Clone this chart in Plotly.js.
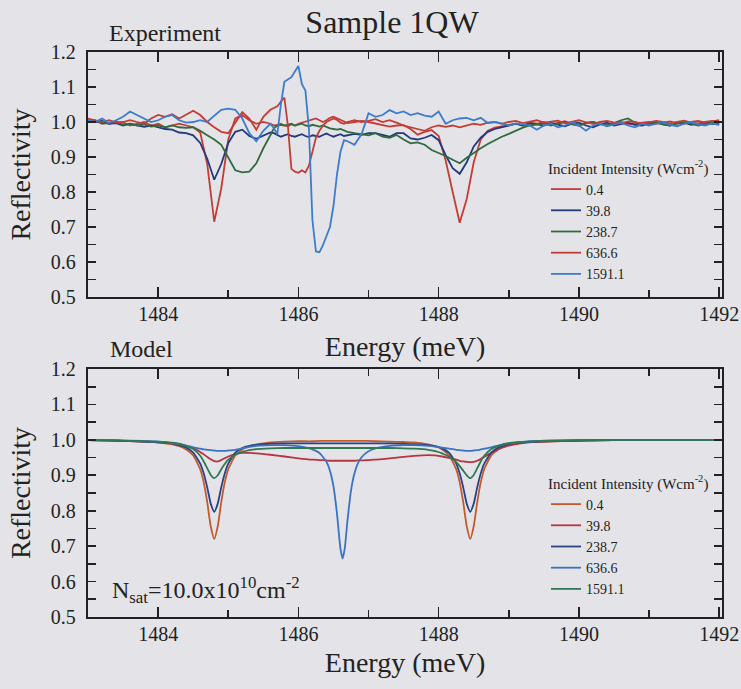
<!DOCTYPE html>
<html>
<head>
<meta charset="utf-8">
<script src="https://cdn.plot.ly/plotly-3.0.1.min.js"></script>
<style>
html,body{margin:0;padding:0;background:#e4e4e8;}
#chart{width:741px;height:689px;}
</style>
</head>
<body>
<div id="chart"></div>
<script>
// ---------- Experiment (top panel) ----------
var energyExp = [
 1483.0,1483.1,1483.2,1483.3,1483.4,1483.5,1483.6,1483.7,1483.8,1483.9,
 1484.0,1484.1,1484.2,1484.3,1484.4,1484.5,1484.6,1484.7,1484.8,1484.9,
 1485.0,1485.1,1485.2,1485.3,1485.4,1485.5,1485.6,
 1485.65,1485.7,1485.75,1485.8,1485.85,1485.9,1485.95,1486.0,1486.05,1486.1,
 1486.15,1486.2,1486.25,1486.3,1486.35,1486.4,1486.45,1486.5,1486.55,1486.6,
 1486.65,1486.7,
 1486.8,1486.9,1487.0,1487.1,1487.2,1487.3,1487.4,1487.5,1487.6,1487.7,
 1487.8,1487.9,1488.0,1488.1,1488.2,1488.3,1488.4,1488.5,1488.6,1488.7,
 1488.8,1488.9,1489.0,1489.1,1489.2,1489.3,1489.4,1489.5,1489.6,1489.7,
 1489.8,1489.9,1490.0,1490.1,1490.2,1490.3,1490.4,1490.5,1490.6,1490.7,
 1490.8,1490.9,1491.0,1491.1,1491.2,1491.3,1491.4,1491.5,1491.6,1491.7,
 1491.8,1491.9,1492.0
];
var exp_0_4 = [
 1.005,1.0,1.0,0.995,1.0,0.998,0.99,0.995,1.0,0.99,
 0.995,0.985,0.99,0.995,0.99,0.985,0.97,0.88,0.715,0.81,
 0.95,1.01,1.02,1.005,0.995,1.0,0.995,
 0.99,0.992,0.995,0.99,0.988,0.993,0.99,0.995,0.998,1.0,
 1.005,1.008,1.01,1.005,1.0,1.005,1.012,1.015,1.01,1.005,
 1.0,0.997,
 1.0,1.003,1.0,0.996,0.99,0.987,0.99,0.991,0.98,0.964,
 0.972,0.977,0.96,0.89,0.80,0.712,0.78,0.885,0.95,0.975,
 0.984,0.988,0.99,0.995,0.99,0.998,0.995,1.0,0.993,0.998,
 1.002,0.995,0.99,0.998,1.0,0.995,0.992,0.997,1.0,0.995,
 0.993,0.998,1.0,0.995,0.998,1.002,0.996,0.995,1.0,1.003,
 0.998,1.002,1.005
];
var exp_39_8 = [
 1.005,1.0,1.003,0.995,0.997,0.99,0.995,0.99,0.986,0.99,
 0.985,0.98,0.978,0.97,0.968,0.962,0.94,0.895,0.835,0.88,
 0.94,0.972,0.978,0.96,0.952,0.962,0.97,
 0.968,0.962,0.958,0.962,0.965,0.96,0.958,0.962,0.965,0.96,
 0.957,0.962,0.96,0.958,0.963,0.967,0.962,0.958,0.962,0.965,
 0.96,0.962,
 0.966,0.963,0.968,0.968,0.962,0.958,0.968,0.968,0.953,0.95,
 0.955,0.963,0.948,0.905,0.868,0.852,0.885,0.93,0.955,0.972,
 0.98,0.985,0.99,0.995,0.99,0.996,0.993,0.99,0.997,0.992,
 0.988,0.995,0.998,0.99,0.985,0.993,0.998,0.99,0.994,0.998,
 0.992,0.99,0.995,0.998,0.993,0.99,0.996,0.998,0.992,0.994,
 0.998,0.995,0.993
];
var exp_238_7 = [
 1.0,1.005,0.995,0.998,1.0,0.992,0.995,0.99,0.993,0.987,
 0.99,0.985,0.99,0.985,0.983,0.985,0.975,0.962,0.95,0.935,
 0.9,0.862,0.856,0.858,0.882,0.925,0.962,
 0.982,0.99,0.992,0.99,0.993,0.995,0.99,0.992,0.995,0.99,
 0.988,0.992,0.99,0.987,0.99,0.985,0.982,0.98,0.978,0.98,
 0.976,0.972,
 0.968,0.965,0.962,0.968,0.958,0.955,0.963,0.95,0.939,0.942,
 0.935,0.92,0.912,0.903,0.892,0.882,0.898,0.912,0.925,0.937,
 0.948,0.958,0.966,0.975,0.984,0.99,0.993,0.996,0.99,0.995,
 1.0,0.993,0.99,0.996,1.0,0.994,0.99,0.997,1.005,1.01,
 0.998,0.993,0.997,1.0,0.993,0.99,0.996,1.0,0.995,0.99,
 0.994,0.998,0.995
];
var exp_636_6 = [
 1.01,1.005,1.0,1.005,0.998,1.0,1.005,1.0,0.995,1.01,
 1.02,1.015,1.022,1.01,1.02,1.032,1.02,1.0,0.985,0.972,
 0.968,1.0,1.028,1.01,0.978,1.015,1.035,
 1.04,1.045,1.058,1.07,0.99,0.866,0.858,0.855,0.862,0.856,
 0.875,0.918,0.955,0.975,0.99,1.0,1.005,1.01,1.006,0.998,
 0.995,1.0,
 1.005,1.0,1.003,1.008,1.0,1.005,0.998,0.99,0.985,0.98,
 0.975,0.985,0.99,0.986,0.99,0.985,0.99,0.995,0.992,0.998,
 1.0,0.995,1.0,1.003,0.997,1.0,1.005,0.998,1.0,1.004,
 0.996,1.0,1.005,0.999,0.995,1.0,1.003,0.998,0.996,1.002,
 1.0,0.995,0.998,1.003,1.0,0.996,1.0,1.004,0.998,0.996,
 1.0,1.003,1.0
];
var exp_1591_1 = [
 1.005,1.0,1.01,0.997,1.005,1.015,1.03,1.02,1.01,1.0,
 1.005,1.015,1.02,1.005,0.998,1.0,1.005,1.0,1.018,1.035,
 1.038,1.035,1.01,0.968,0.945,0.975,0.995,
 0.982,0.965,1.05,1.115,1.122,1.128,1.144,1.16,1.108,1.09,
 0.98,0.72,0.63,0.628,0.648,0.675,0.70,0.76,0.85,0.915,
 0.948,0.945,
 0.935,0.965,1.025,1.015,1.02,1.034,1.025,1.03,1.02,1.025,
 1.018,1.015,1.03,0.995,1.005,1.01,1.012,1.005,1.012,0.997,
 1.0,0.996,0.99,0.996,0.992,0.99,0.978,0.99,0.995,0.985,
 0.99,0.998,0.99,0.975,0.99,0.995,0.988,0.993,0.998,0.99,
 0.985,0.995,0.99,0.995,1.0,0.992,0.988,0.995,1.0,0.993,
 0.99,0.996,0.992
];

// ---------- Model (bottom panel) ----------
var energyModel = [
 1483.0,1483.4,1483.8,1484.0,1484.2,1484.3,1484.4,1484.5,1484.6,1484.65,
 1484.7,1484.75,1484.8,1484.85,1484.9,1484.95,1485.0,1485.1,1485.2,1485.3,
 1485.4,1485.6,1485.8,1486.0,1486.2,1486.3,1486.4,1486.45,1486.5,1486.55,
 1486.6,1486.63,1486.66,1486.7,1486.75,1486.8,1486.85,1486.9,1487.0,1487.1,
 1487.3,1487.5,1487.65,1487.85,1487.95,1488.05,1488.15,1488.25,1488.3,1488.35,
 1488.4,1488.45,1488.5,1488.55,1488.6,1488.65,1488.75,1488.85,1488.95,1489.05,
 1489.25,1489.5,1490.0,1490.5,1491.0,1491.5,1492.0
];
var model_0_4 = [
 0.999,0.998,0.995,0.993,0.987,0.982,0.973,0.956,0.917,0.88,
 0.824,0.756,0.72,0.756,0.824,0.88,0.917,0.956,0.973,0.982,
 0.987,0.993,0.995,0.996,0.996,0.997,0.997,0.997,0.997,0.997,
 0.997,0.997,0.997,0.997,0.997,0.997,0.997,0.997,0.997,0.996,
 0.995,0.994,0.993,0.987,0.982,0.973,0.956,0.917,0.88,0.824,
 0.756,0.72,0.756,0.824,0.88,0.917,0.956,0.973,0.982,0.987,
 0.993,0.995,0.998,0.999,0.999,1.0,1.0
];
var model_39_8 = [
 0.999,0.998,0.995,0.993,0.99,0.987,0.983,0.977,0.966,0.959,
 0.952,0.945,0.94,0.939,0.943,0.948,0.953,0.96,0.963,0.963,
 0.962,0.958,0.953,0.948,0.944,0.943,0.942,0.941,0.941,0.941,
 0.941,0.941,0.941,0.941,0.941,0.941,0.942,0.942,0.943,0.944,
 0.948,0.952,0.955,0.957,0.956,0.953,0.949,0.944,0.941,0.939,
 0.938,0.937,0.938,0.941,0.946,0.952,0.964,0.974,0.981,0.986,
 0.992,0.995,0.998,0.999,1.0,1.0,1.0
];
var model_238_7 = [
 0.999,0.998,0.995,0.993,0.99,0.985,0.978,0.964,0.933,0.905,
 0.866,0.82,0.797,0.82,0.866,0.905,0.933,0.964,0.977,0.983,
 0.986,0.989,0.99,0.99,0.99,0.99,0.99,0.99,0.99,0.99,
 0.99,0.99,0.99,0.99,0.99,0.99,0.99,0.99,0.99,0.99,
 0.99,0.989,0.988,0.985,0.982,0.976,0.963,0.933,0.905,0.866,
 0.82,0.797,0.82,0.866,0.905,0.933,0.964,0.978,0.985,0.99,
 0.994,0.996,0.998,0.999,1.0,1.0,1.0
];
var model_636_6 = [
 1.0,0.999,0.997,0.995,0.991,0.988,0.984,0.979,0.975,0.973,
 0.972,0.971,0.97,0.969,0.969,0.969,0.97,0.972,0.976,0.98,
 0.983,0.985,0.985,0.982,0.973,0.963,0.938,0.913,0.869,0.792,
 0.692,0.665,0.692,0.772,0.857,0.906,0.934,0.951,0.968,0.976,
 0.983,0.985,0.985,0.983,0.981,0.978,0.975,0.972,0.971,0.97,
 0.969,0.969,0.97,0.971,0.973,0.975,0.979,0.984,0.988,0.991,
 0.995,0.998,0.999,1.0,1.0,1.0,1.0
];
var model_1591_1 = [
 0.999,0.998,0.996,0.995,0.992,0.989,0.983,0.974,0.955,0.939,
 0.92,0.901,0.892,0.9,0.917,0.932,0.944,0.958,0.966,0.971,
 0.974,0.976,0.977,0.977,0.977,0.977,0.977,0.977,0.977,0.977,
 0.977,0.977,0.977,0.977,0.977,0.977,0.977,0.977,0.977,0.977,
 0.977,0.976,0.975,0.972,0.968,0.962,0.952,0.937,0.926,0.913,
 0.9,0.892,0.901,0.92,0.939,0.955,0.974,0.983,0.989,0.992,
 0.995,0.997,0.999,1.0,1.0,1.0,1.0
];

var intensityLabels = ['0.4','39.8','238.7','636.6','1591.1'];
var expColors = ['#c23d35','#22397c','#2f6b3e','#c23d35','#3b7ccb'];
var modelColors = ['#c25a2e','#b8343f','#2a4283','#3a73c4','#2f7a52'];

var expSeries = [exp_0_4, exp_39_8, exp_238_7, exp_636_6, exp_1591_1];
var modelSeries = [model_0_4, model_39_8, model_238_7, model_636_6, model_1591_1];

var traces = [];
expSeries.forEach(function(ys, i){
  traces.push({x: energyExp, y: ys, type:'scatter', mode:'lines', name: intensityLabels[i],
    xaxis:'x', yaxis:'y', legend:'legend',
    line:{color: expColors[i], width:1.8}});
});
modelSeries.forEach(function(ys, i){
  traces.push({x: energyModel, y: ys, type:'scatter', mode:'lines', name: intensityLabels[i],
    xaxis:'x2', yaxis:'y2', legend:'legend2',
    line:{color: modelColors[i], width:1.8, shape:'spline', smoothing:0.5}});
});

var FONT = 'Liberation Serif';
var INK = '#222222';
var BG = '#e4e4e8';
var W = 741, H = 689;
var xDom = [88/W, 722/W];

function xAxis(anchor, standoff){
  return {
    domain: xDom, anchor: anchor, range:[1483, 1492.04],
    tick0: 1484, dtick: 2, tickformat:'d',
    ticks:'inside', ticklen:10, tickwidth:1.6, tickcolor:INK,
    minor:{dtick:1, tick0:1484, ticks:'inside', ticklen:7, tickwidth:1.6, tickcolor:INK},
    showline:true, linewidth:2.2, linecolor:INK, mirror:'ticks',
    showgrid:false, zeroline:false,
    tickfont:{family:FONT, size:20, color:INK},
    ticklabelstandoff: -2,
    title:{text:'Energy (meV)', font:{family:FONT, size:28, color:INK}, standoff: standoff}
  };
}
function yAxis(anchor){
  return {
    domain: null, anchor: anchor, range:[0.5, 1.2],
    tick0: 0.5, dtick: 0.1, tickformat:'.1f',
    ticks:'inside', ticklen:8, tickwidth:1.6, tickcolor:INK,
    minor:{dtick:0.05, ticks:'inside', ticklen:8, tickwidth:1.6, tickcolor:INK},
    showline:true, linewidth:2.2, linecolor:INK, mirror:'ticks',
    showgrid:false, zeroline:false,
    tickfont:{family:FONT, size:20, color:INK},
    ticklabelstandoff: 6,
    title:{text:'Reflectivity', font:{family:FONT, size:28, color:INK}, standoff: 12}
  };
}

var ya = yAxis('x'); ya.domain = [1-297/H, 1-52/H];
var ya2 = yAxis('x2'); ya2.domain = [1-617/H, 1-369/H];

var legendCommon = function(yTop){
  return {
    x: 546/W, xanchor:'left', y: yTop, yanchor:'top',
    bgcolor:'rgba(0,0,0,0)', borderwidth:0,
    font:{family:FONT, size:14, color:INK},
    title:{text:'Incident Intensity (Wcm<sup>-2</sup>)', font:{family:FONT, size:15, color:INK}},
    traceorder:'normal', tracegroupgap:0
  };
};

var layout = {
  width: W, height: H,
  paper_bgcolor: BG, plot_bgcolor: BG,
  margin:{l:0, r:0, t:0, b:0},
  font:{family:FONT, color:INK},
  title:{text:'Sample 1QW', x: 392/W, xanchor:'center', y: 1-22/H, yanchor:'middle',
         font:{family:FONT, size:32, color:INK}},
  xaxis: xAxis('y', 12),
  yaxis: ya,
  xaxis2: xAxis('y2', 8),
  yaxis2: ya2,
  legend: legendCommon(1-154/H),
  legend2: legendCommon(1-469/H),
  annotations:[
    {text:'Experiment', xref:'paper', yref:'paper', x:107/W, y:1-33/H, xanchor:'left', yanchor:'middle',
     showarrow:false, font:{family:FONT, size:24, color:INK}},
    {text:'Model', xref:'paper', yref:'paper', x:108/W, y:1-349/H, xanchor:'left', yanchor:'middle',
     showarrow:false, font:{family:FONT, size:24, color:INK}},
    {text:'N<sub>sat</sub>=10.0x10<sup>10</sup>cm<sup>-2</sup>', xref:'paper', yref:'paper',
     x:110/W, y:1-590/H, xanchor:'left', yanchor:'middle',
     showarrow:false, font:{family:FONT, size:24, color:INK}}
  ]
};

Plotly.newPlot('chart', traces, layout, {displayModeBar:false, staticPlot:true});
</script>
</body>
</html>
